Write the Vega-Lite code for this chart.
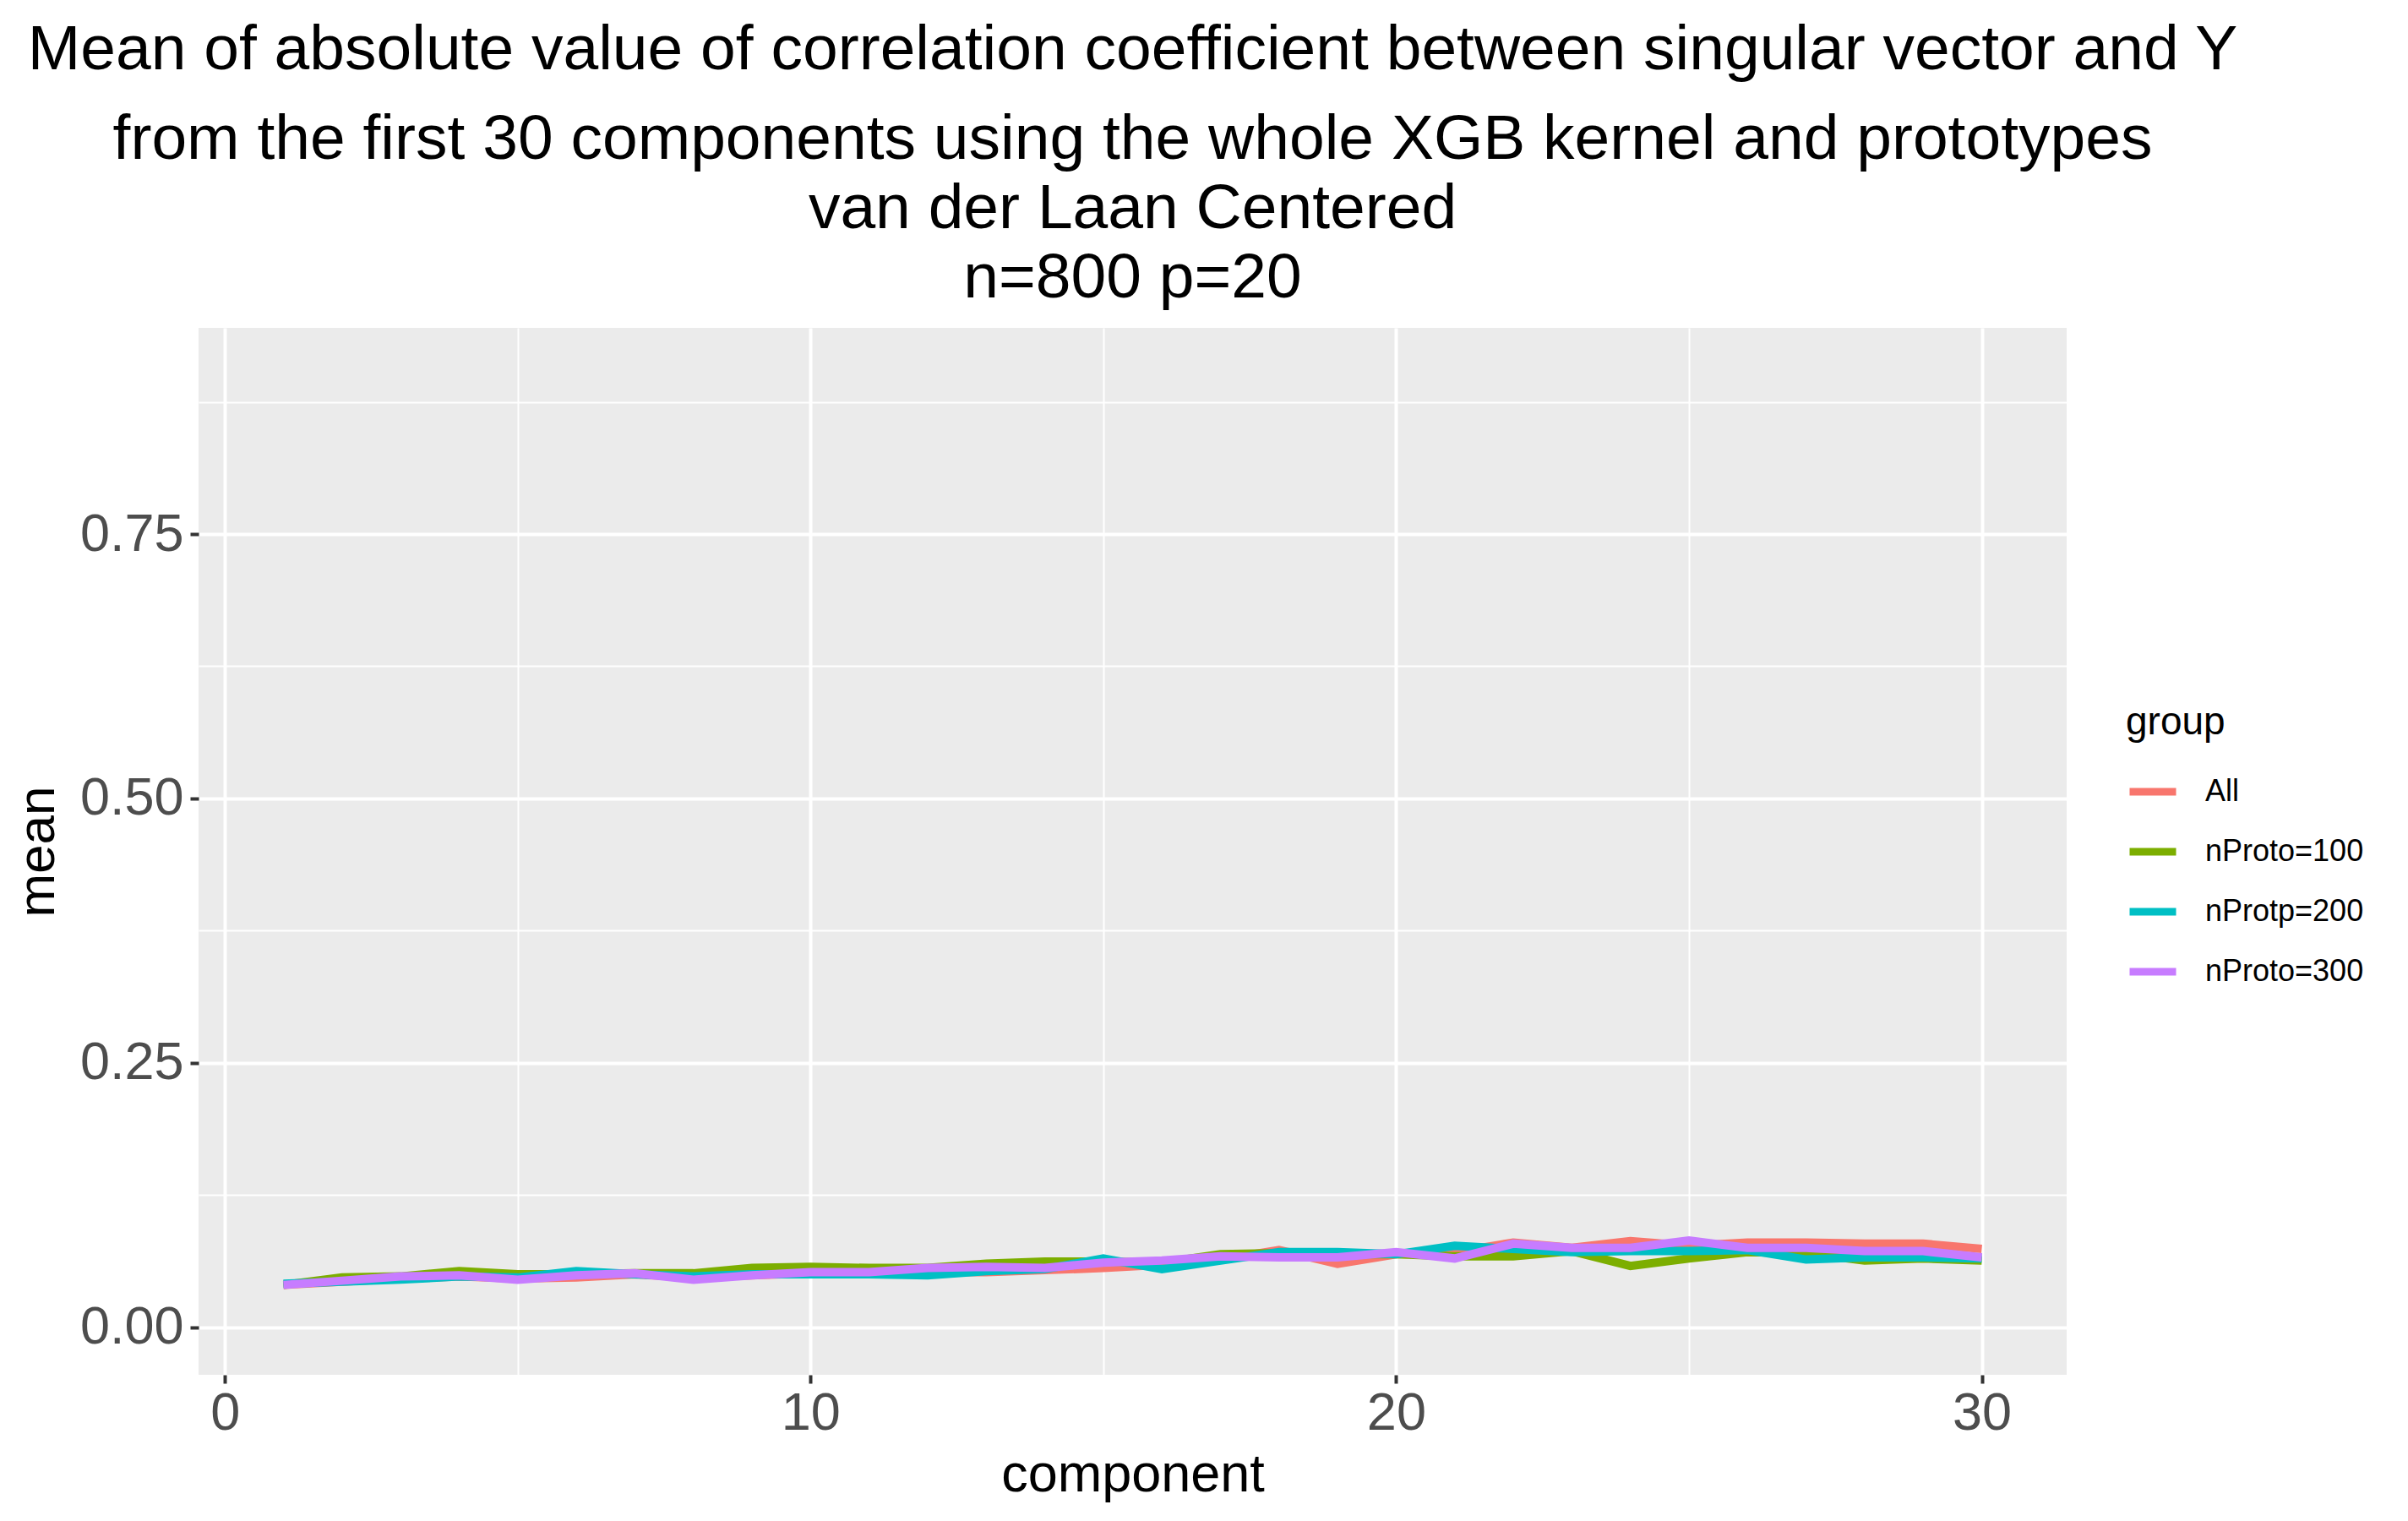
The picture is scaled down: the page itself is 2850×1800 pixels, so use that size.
{
  "$schema": "https://vega.github.io/schema/vega-lite/v6.json",
  "width": 2211,
  "height": 1239,
  "autosize": "none",
  "padding": {"left": 235, "top": 388, "right": 404, "bottom": 173},
  "background": "white",
  "title": {
    "text": "Mean of absolute value of correlation coefficient between singular vector and Y",
    "subtitle": ["from the first 30 components using the whole XGB kernel and prototypes", "van der Laan Centered", "n=800 p=20"],
    "anchor": "middle",
    "frame": "group",
    "font": "Liberation Sans",
    "fontSize": 75,
    "fontWeight": "normal",
    "color": "black",
    "subtitleFont": "Liberation Sans",
    "subtitleFontSize": 75,
    "subtitleColor": "black",
    "subtitleLineHeight": 82,
    "subtitlePadding": 31,
    "offset": 20
  },
  "config": {
    "view": {"fill": "#EBEBEB", "stroke": null},
    "axis": {
      "gridColor": "white",
      "domain": false,
      "labelFont": "Liberation Sans",
      "titleFont": "Liberation Sans",
      "titleFontWeight": "normal"
    }
  },
  "data": {
    "values": [
      {"component": 1, "group": "All", "mean": 0.040},
      {"component": 2, "group": "All", "mean": 0.043},
      {"component": 3, "group": "All", "mean": 0.046},
      {"component": 4, "group": "All", "mean": 0.048},
      {"component": 5, "group": "All", "mean": 0.046},
      {"component": 6, "group": "All", "mean": 0.047},
      {"component": 7, "group": "All", "mean": 0.050},
      {"component": 8, "group": "All", "mean": 0.047},
      {"component": 9, "group": "All", "mean": 0.049},
      {"component": 10, "group": "All", "mean": 0.051},
      {"component": 11, "group": "All", "mean": 0.052},
      {"component": 12, "group": "All", "mean": 0.052},
      {"component": 13, "group": "All", "mean": 0.052},
      {"component": 14, "group": "All", "mean": 0.054},
      {"component": 15, "group": "All", "mean": 0.056},
      {"component": 16, "group": "All", "mean": 0.059},
      {"component": 17, "group": "All", "mean": 0.064},
      {"component": 18, "group": "All", "mean": 0.073},
      {"component": 19, "group": "All", "mean": 0.060},
      {"component": 20, "group": "All", "mean": 0.069},
      {"component": 21, "group": "All", "mean": 0.071},
      {"component": 22, "group": "All", "mean": 0.080},
      {"component": 23, "group": "All", "mean": 0.075},
      {"component": 24, "group": "All", "mean": 0.0815},
      {"component": 25, "group": "All", "mean": 0.077},
      {"component": 26, "group": "All", "mean": 0.080},
      {"component": 27, "group": "All", "mean": 0.080},
      {"component": 28, "group": "All", "mean": 0.079},
      {"component": 29, "group": "All", "mean": 0.079},
      {"component": 30, "group": "All", "mean": 0.074},
      {"component": 1, "group": "nProto=100", "mean": 0.040},
      {"component": 2, "group": "nProto=100", "mean": 0.047},
      {"component": 3, "group": "nProto=100", "mean": 0.048},
      {"component": 4, "group": "nProto=100", "mean": 0.053},
      {"component": 5, "group": "nProto=100", "mean": 0.050},
      {"component": 6, "group": "nProto=100", "mean": 0.050},
      {"component": 7, "group": "nProto=100", "mean": 0.051},
      {"component": 8, "group": "nProto=100", "mean": 0.051},
      {"component": 9, "group": "nProto=100", "mean": 0.056},
      {"component": 10, "group": "nProto=100", "mean": 0.057},
      {"component": 11, "group": "nProto=100", "mean": 0.056},
      {"component": 12, "group": "nProto=100", "mean": 0.056},
      {"component": 13, "group": "nProto=100", "mean": 0.060},
      {"component": 14, "group": "nProto=100", "mean": 0.062},
      {"component": 15, "group": "nProto=100", "mean": 0.062},
      {"component": 16, "group": "nProto=100", "mean": 0.061},
      {"component": 17, "group": "nProto=100", "mean": 0.069},
      {"component": 18, "group": "nProto=100", "mean": 0.070},
      {"component": 19, "group": "nProto=100", "mean": 0.069},
      {"component": 20, "group": "nProto=100", "mean": 0.069},
      {"component": 21, "group": "nProto=100", "mean": 0.067},
      {"component": 22, "group": "nProto=100", "mean": 0.067},
      {"component": 23, "group": "nProto=100", "mean": 0.072},
      {"component": 24, "group": "nProto=100", "mean": 0.058},
      {"component": 25, "group": "nProto=100", "mean": 0.065},
      {"component": 26, "group": "nProto=100", "mean": 0.071},
      {"component": 27, "group": "nProto=100", "mean": 0.070},
      {"component": 28, "group": "nProto=100", "mean": 0.063},
      {"component": 29, "group": "nProto=100", "mean": 0.065},
      {"component": 30, "group": "nProto=100", "mean": 0.063},
      {"component": 1, "group": "nProtp=200", "mean": 0.041},
      {"component": 2, "group": "nProtp=200", "mean": 0.043},
      {"component": 3, "group": "nProtp=200", "mean": 0.045},
      {"component": 4, "group": "nProtp=200", "mean": 0.048},
      {"component": 5, "group": "nProtp=200", "mean": 0.047},
      {"component": 6, "group": "nProtp=200", "mean": 0.053},
      {"component": 7, "group": "nProtp=200", "mean": 0.050},
      {"component": 8, "group": "nProtp=200", "mean": 0.048},
      {"component": 9, "group": "nProtp=200", "mean": 0.050},
      {"component": 10, "group": "nProtp=200", "mean": 0.050},
      {"component": 11, "group": "nProtp=200", "mean": 0.050},
      {"component": 12, "group": "nProtp=200", "mean": 0.049},
      {"component": 13, "group": "nProtp=200", "mean": 0.053},
      {"component": 14, "group": "nProtp=200", "mean": 0.055},
      {"component": 15, "group": "nProtp=200", "mean": 0.065},
      {"component": 16, "group": "nProtp=200", "mean": 0.055},
      {"component": 17, "group": "nProtp=200", "mean": 0.063},
      {"component": 18, "group": "nProtp=200", "mean": 0.071},
      {"component": 19, "group": "nProtp=200", "mean": 0.071},
      {"component": 20, "group": "nProtp=200", "mean": 0.069},
      {"component": 21, "group": "nProtp=200", "mean": 0.077},
      {"component": 22, "group": "nProtp=200", "mean": 0.074},
      {"component": 23, "group": "nProtp=200", "mean": 0.071},
      {"component": 24, "group": "nProtp=200", "mean": 0.072},
      {"component": 25, "group": "nProtp=200", "mean": 0.072},
      {"component": 26, "group": "nProtp=200", "mean": 0.073},
      {"component": 27, "group": "nProtp=200", "mean": 0.064},
      {"component": 28, "group": "nProtp=200", "mean": 0.066},
      {"component": 29, "group": "nProtp=200", "mean": 0.066},
      {"component": 30, "group": "nProtp=200", "mean": 0.065},
      {"component": 1, "group": "nProto=300", "mean": 0.040},
      {"component": 2, "group": "nProto=300", "mean": 0.044},
      {"component": 3, "group": "nProto=300", "mean": 0.048},
      {"component": 4, "group": "nProto=300", "mean": 0.049},
      {"component": 5, "group": "nProto=300", "mean": 0.045},
      {"component": 6, "group": "nProto=300", "mean": 0.049},
      {"component": 7, "group": "nProto=300", "mean": 0.051},
      {"component": 8, "group": "nProto=300", "mean": 0.045},
      {"component": 9, "group": "nProto=300", "mean": 0.049},
      {"component": 10, "group": "nProto=300", "mean": 0.052},
      {"component": 11, "group": "nProto=300", "mean": 0.052},
      {"component": 12, "group": "nProto=300", "mean": 0.056},
      {"component": 13, "group": "nProto=300", "mean": 0.057},
      {"component": 14, "group": "nProto=300", "mean": 0.056},
      {"component": 15, "group": "nProto=300", "mean": 0.061},
      {"component": 16, "group": "nProto=300", "mean": 0.063},
      {"component": 17, "group": "nProto=300", "mean": 0.067},
      {"component": 18, "group": "nProto=300", "mean": 0.066},
      {"component": 19, "group": "nProto=300", "mean": 0.066},
      {"component": 20, "group": "nProto=300", "mean": 0.071},
      {"component": 21, "group": "nProto=300", "mean": 0.065},
      {"component": 22, "group": "nProto=300", "mean": 0.079},
      {"component": 23, "group": "nProto=300", "mean": 0.075},
      {"component": 24, "group": "nProto=300", "mean": 0.075},
      {"component": 25, "group": "nProto=300", "mean": 0.082},
      {"component": 26, "group": "nProto=300", "mean": 0.075},
      {"component": 27, "group": "nProto=300", "mean": 0.075},
      {"component": 28, "group": "nProto=300", "mean": 0.072},
      {"component": 29, "group": "nProto=300", "mean": 0.072},
      {"component": 30, "group": "nProto=300", "mean": 0.066}
    ]
  },
  "layer": [
    {
      "mark": {"type": "point", "opacity": 0},
      "encoding": {
        "x": {
          "field": "component",
          "type": "quantitative",
          "scale": {"domain": [-0.45, 31.45], "nice": false, "zero": false},
          "axis": {
            "orient": "top",
            "values": [5, 15, 25],
            "grid": true,
            "gridWidth": 2,
            "labels": false,
            "ticks": false,
            "title": null
          }
        },
        "y": {
          "field": "mean",
          "type": "quantitative",
          "scale": {"domain": [-0.045, 0.945], "nice": false, "zero": false},
          "axis": {
            "orient": "right",
            "values": [0.125, 0.375, 0.625, 0.875],
            "grid": true,
            "gridWidth": 2,
            "labels": false,
            "ticks": false,
            "title": null
          }
        }
      }
    },
    {
      "mark": {"type": "line", "strokeWidth": 10},
      "encoding": {
        "x": {
          "field": "component",
          "type": "quantitative",
          "title": "component",
          "axis": {
            "orient": "bottom",
            "values": [0, 10, 20, 30],
            "grid": true,
            "gridWidth": 4,
            "labelFontSize": 63,
            "labelColor": "#4D4D4D",
            "labelPadding": 4,
            "tickColor": "#333333",
            "tickSize": 10,
            "tickWidth": 4,
            "titleFontSize": 63,
            "titleColor": "black",
            "titlePadding": 10
          }
        },
        "y": {
          "field": "mean",
          "type": "quantitative",
          "title": "mean",
          "axis": {
            "orient": "left",
            "values": [0, 0.25, 0.5, 0.75],
            "format": ".2f",
            "grid": true,
            "gridWidth": 4,
            "labelFontSize": 63,
            "labelColor": "#4D4D4D",
            "labelPadding": 8,
            "tickColor": "#333333",
            "tickSize": 10,
            "tickWidth": 4,
            "titleFontSize": 62,
            "titleColor": "black",
            "titlePadding": 18
          }
        },
        "color": {
          "field": "group",
          "type": "nominal",
          "scale": {
            "domain": ["All", "nProto=100", "nProtp=200", "nProto=300"],
            "range": ["#F8766D", "#7CAE00", "#00BFC4", "#C77CFF"]
          },
          "legend": {
            "orient": "none",
            "legendX": 2281,
            "legendY": 445,
            "title": "group",
            "titleFont": "Liberation Sans",
            "titleFontSize": 46,
            "titleFontWeight": "normal",
            "titleColor": "black",
            "titlePadding": 26,
            "labelFont": "Liberation Sans",
            "labelFontSize": 36,
            "labelColor": "black",
            "labelLimit": 0,
            "labelOffset": 30,
            "symbolType": "stroke",
            "symbolSize": 3025,
            "symbolStrokeWidth": 9,
            "rowPadding": 21
          }
        }
      }
    }
  ]
}
